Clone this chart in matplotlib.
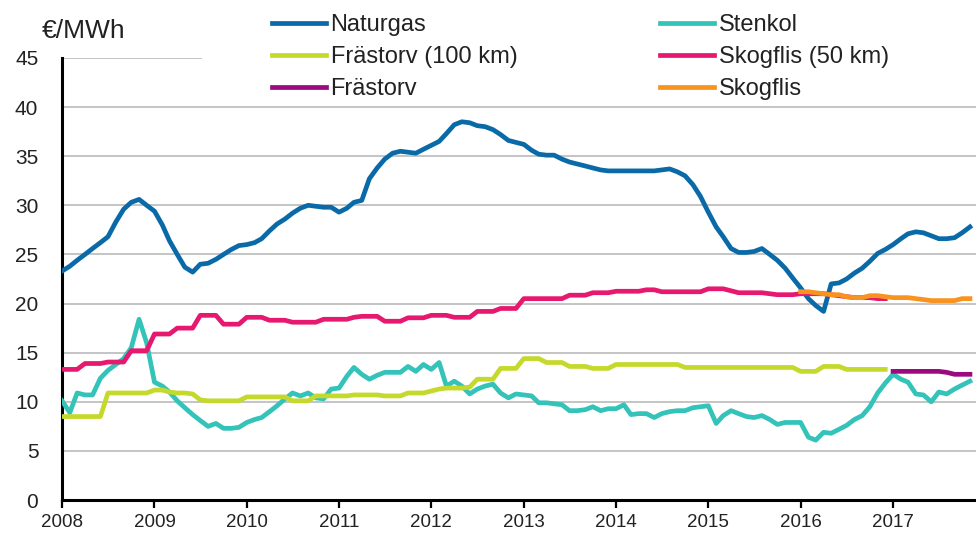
import matplotlib
matplotlib.use("Agg")
import matplotlib.pyplot as plt
import pandas as pd
from matplotlib.patches import Rectangle

plt.rcParams['font.family'] = ['Liberation Sans', 'DejaVu Sans']

# Monthly data, Jan 2008 - Nov 2017
start = "2008-01-01"

naturgas = [23.3, 23.8, 24.4, 25.0, 25.6, 26.2, 26.8, 28.3, 29.6, 30.3, 30.6, 30.0,
            29.4, 28.0, 26.4, 25.0, 23.7, 23.2, 24.0, 24.1, 24.5, 25.0, 25.5, 25.9,
            26.0, 26.2, 26.6, 27.4, 28.1, 28.6, 29.2, 29.7, 30.0, 29.9, 29.8, 29.8,
            29.3, 29.7, 30.3, 30.5, 32.7, 33.8, 34.7, 35.3, 35.5, 35.4, 35.3, 35.7,
            36.1, 36.5, 37.3, 38.2, 38.5, 38.4, 38.1, 38.0, 37.7, 37.2, 36.6, 36.4,
            36.2, 35.6, 35.2, 35.1, 35.1, 34.7, 34.4, 34.2, 34.0, 33.8, 33.6, 33.5,
            33.5, 33.5, 33.5, 33.5, 33.5, 33.5, 33.6, 33.7, 33.4, 33.0, 32.1, 30.9,
            29.3, 27.8, 26.8, 25.6, 25.2, 25.2, 25.3, 25.6, 25.0, 24.4, 23.6, 22.6,
            21.6, 20.5, 19.8, 19.2, 22.0, 22.1, 22.5, 23.1, 23.6, 24.3, 25.1, 25.5,
            26.0, 26.6, 27.1, 27.3, 27.2, 26.9, 26.6, 26.6, 26.7, 27.2, 27.8]

stenkol = [10.1, 8.9, 10.9, 10.7, 10.7, 12.4, 13.2, 13.8, 14.4, 15.5, 18.4, 16.0,
           12.0, 11.6, 11.0, 10.1, 9.4, 8.7, 8.1, 7.5, 7.8, 7.3, 7.3, 7.4,
           7.9, 8.2, 8.4, 9.0, 9.6, 10.3, 10.9, 10.6, 10.9, 10.4, 10.3, 11.3,
           11.4, 12.6, 13.5, 12.8, 12.3, 12.7, 13.0, 13.0, 13.0, 13.6, 13.1, 13.8,
           13.3, 14.0, 11.6, 12.1, 11.6, 10.8, 11.3, 11.6, 11.8, 10.9, 10.4, 10.8,
           10.7, 10.6, 9.9, 9.9, 9.8, 9.7, 9.1, 9.1, 9.2, 9.5, 9.1, 9.3,
           9.3, 9.7, 8.7, 8.8, 8.8, 8.4, 8.8, 9.0, 9.1, 9.1, 9.4, 9.5,
           9.6, 7.8, 8.6, 9.1, 8.8, 8.5, 8.4, 8.6, 8.2, 7.7, 7.9, 7.9,
           7.9, 6.4, 6.1, 6.9, 6.8, 7.2, 7.6, 8.2, 8.6, 9.5, 10.9, 11.9,
           12.8, 12.3, 12.0, 10.8, 10.7, 10.0, 11.0, 10.8, 11.3, 11.7, 12.1]

frastorv_100 = [8.5, 8.5, 8.5, 8.5, 8.5, 8.5, 10.9, 10.9, 10.9, 10.9, 10.9, 10.9,
                11.2, 11.2, 11.0, 10.9, 10.9, 10.8, 10.2, 10.1, 10.1, 10.1, 10.1, 10.1,
                10.5, 10.5, 10.5, 10.5, 10.5, 10.5, 10.1, 10.1, 10.1, 10.6, 10.6, 10.6,
                10.6, 10.6, 10.7, 10.7, 10.7, 10.7, 10.6, 10.6, 10.6, 10.9, 10.9, 10.9,
                11.1, 11.3, 11.4, 11.4, 11.4, 11.5, 12.3, 12.3, 12.3, 13.4, 13.4, 13.4,
                14.4, 14.4, 14.4, 14.0, 14.0, 14.0, 13.6, 13.6, 13.6, 13.4, 13.4, 13.4,
                13.8, 13.8, 13.8, 13.8, 13.8, 13.8, 13.8, 13.8, 13.8, 13.5, 13.5, 13.5,
                13.5, 13.5, 13.5, 13.5, 13.5, 13.5, 13.5, 13.5, 13.5, 13.5, 13.5, 13.5,
                13.1, 13.1, 13.1, 13.6, 13.6, 13.6, 13.3, 13.3, 13.3, 13.3, 13.3, 13.3]

skogflis_50 = [13.3, 13.3, 13.3, 13.9, 13.9, 13.9, 14.05, 14.05, 14.05, 15.2, 15.2, 15.2,
               16.9, 16.9, 16.9, 17.5, 17.5, 17.5, 18.8, 18.8, 18.8, 17.9, 17.9, 17.9,
               18.6, 18.6, 18.6, 18.3, 18.3, 18.3, 18.1, 18.1, 18.1, 18.1, 18.4, 18.4,
               18.4, 18.4, 18.6, 18.7, 18.7, 18.7, 18.2, 18.2, 18.2, 18.55, 18.55, 18.55,
               18.8, 18.8, 18.8, 18.6, 18.6, 18.6, 19.2, 19.2, 19.2, 19.5, 19.5, 19.5,
               20.5, 20.5, 20.5, 20.5, 20.5, 20.5, 20.85, 20.85, 20.85, 21.1, 21.1, 21.1,
               21.25, 21.25, 21.25, 21.25, 21.4, 21.4, 21.2, 21.2, 21.2, 21.2, 21.2, 21.2,
               21.5, 21.5, 21.5, 21.3, 21.1, 21.1, 21.1, 21.1, 21.0, 20.9, 20.9, 20.9,
               21.0, 21.0, 21.0, 21.0, 20.9, 20.8, 20.7, 20.6, 20.6, 20.6, 20.5, 20.5]

# Frästorv from Jan 2017, Skogflis from Jan 2016
frastorv = [13.1, 13.1, 13.1, 13.1, 13.1, 13.1, 13.1, 13.0, 12.8, 12.8, 12.8]
skogflis = [21.2, 21.2, 21.1, 21.0, 20.9, 20.9, 20.7, 20.6, 20.6, 20.8, 20.8, 20.7,
            20.6, 20.6, 20.6, 20.5, 20.4, 20.3, 20.3, 20.3, 20.3, 20.5, 20.5]

dates_all = pd.date_range(start, periods=len(naturgas), freq="MS")
dates_fr100 = pd.date_range(start, periods=len(frastorv_100), freq="MS")
dates_sk50 = pd.date_range(start, periods=len(skogflis_50), freq="MS")
dates_fr = pd.date_range("2017-01-01", periods=len(frastorv), freq="MS")
dates_sk = pd.date_range("2016-01-01", periods=len(skogflis), freq="MS")

years = list(range(2008, 2018))
year_labels = [str(y) for y in years]

fig = plt.figure(figsize=(9.76, 5.36), dpi=100)
ax = fig.add_axes([0.0635, 0.067, 0.9365, 0.825])

lw = 3.4
l_nat, = ax.plot(dates_all, naturgas, color="#0a6aa8", lw=lw, label="Naturgas", zorder=3)
l_st, = ax.plot(dates_all, stenkol, color="#33c3b9", lw=lw, label="Stenkol", zorder=3)
l_f100, = ax.plot(dates_fr100, frastorv_100, color="#c5d92c", lw=lw, label="Frästorv (100 km)", zorder=3)
l_s50, = ax.plot(dates_sk50, skogflis_50, color="#e6186f", lw=lw, label="Skogflis (50 km)", zorder=3)
l_fr, = ax.plot(dates_fr, frastorv, color="#9c0a82", lw=lw, label="Frästorv", zorder=3)
l_sk, = ax.plot(dates_sk, skogflis, color="#f7931e", lw=lw, label="Skogflis", zorder=4)

ax.set_ylim(0, 45)
ax.set_yticks(range(0, 46, 5))
ax.set_xlim(pd.Timestamp("2008-01-01"), pd.Timestamp("2017-11-25"))
ax.set_xticks([pd.Timestamp(f"{y}-01-01") for y in years])
ax.set_xticklabels(year_labels)

ax.grid(axis="y", color="#c4c4c4", lw=1.4)
ax.set_axisbelow(True)
for s in ["top", "right"]:
    ax.spines[s].set_visible(False)
ax.spines["left"].set_linewidth(2.2)
ax.spines["bottom"].set_linewidth(2.2)
ax.tick_params(axis="y", length=0, pad=17, labelsize=15)
ax.tick_params(axis="x", length=6, width=1.6, direction="out", pad=4, labelsize=13.5)
for t in ax.get_xticklabels() + ax.get_yticklabels():
    t.set_color("#222222")

# white legend area covering the top gridline
ax.add_patch(Rectangle((0.153, 0.985), 0.9, 0.1, transform=ax.transAxes,
                       facecolor="white", edgecolor="none", zorder=1, clip_on=False))

fig.text(0.043, 0.942, "€/MWh", fontsize=19, color="#222222", va="center", ha="left")

leg_kw = dict(loc="upper left", frameon=False, fontsize=17, handlelength=2.3,
              handletextpad=0.18, labelspacing=0.43, borderpad=0, borderaxespad=0)
leg1 = fig.legend(handles=[l_nat, l_f100, l_fr], bbox_to_anchor=(272 / 976, 1 - 14 / 536), **leg_kw)
leg2 = fig.legend(handles=[l_st, l_s50, l_sk], bbox_to_anchor=(660 / 976, 1 - 14 / 536), **leg_kw)
for leg in (leg1, leg2):
    for t in leg.get_texts():
        t.set_color("#222222")

fig.savefig("out.png", dpi=100)
